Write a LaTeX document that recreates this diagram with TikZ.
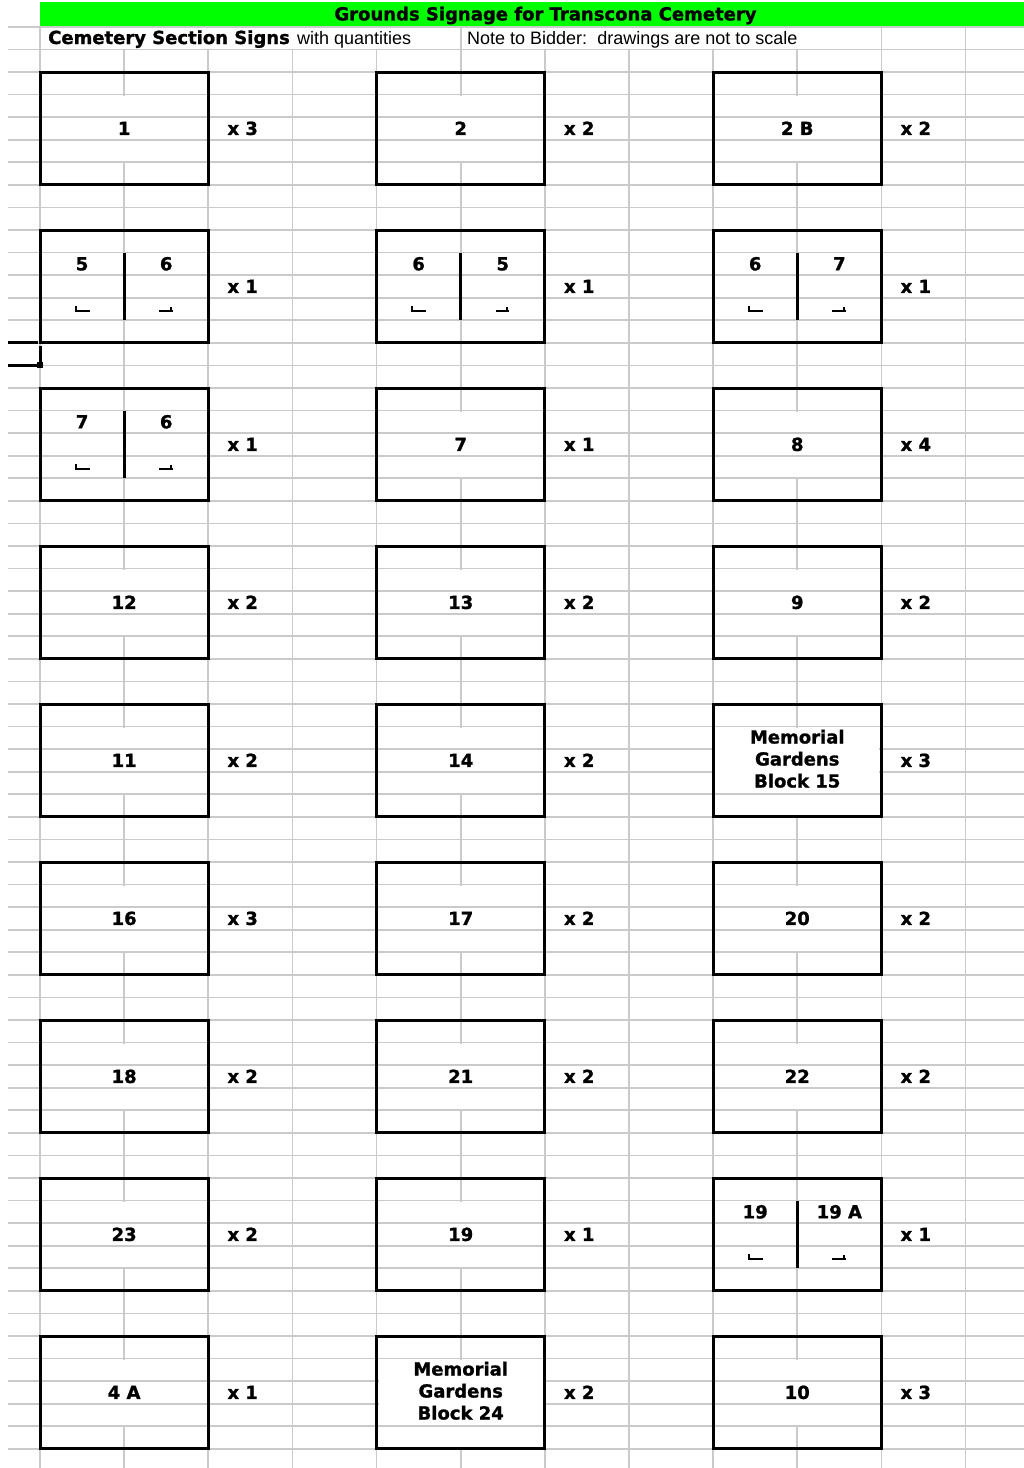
\documentclass[tikz,border=0pt]{standalone}
\usepackage{fontspec}
\setmainfont{DejaVu Sans}[BoldFeatures={FakeBold=1.2}]
\newfontfamily\regfont{Liberation Sans}
\definecolor{gridgray}{HTML}{CACACA}
\definecolor{titlegreen}{HTML}{00FF00}
\begin{document}
\begin{tikzpicture}[x=1pt,y=-1pt,
  gridline/.style={draw=gridgray, line width=1.8pt},
  signbox/.style={draw=black, line width=3pt},
  boldtxt/.style={font=\fontsize{18}{22}\selectfont\bfseries, inner sep=0pt},
  regtxt/.style={font=\regfont\fontsize{18}{22}\selectfont, inner sep=0pt},
  divider/.style={draw=black, line width=3pt},
  arrowmark/.style={draw=black, line width=2pt}]
\useasboundingbox (0,0) rectangle (1024,1468);
\fill[white] (0,0) rectangle (1024,1468);
\def\rh{22.5714}
\def\cw{84.14}
% vertical grid lines
\foreach \k in {0,...,11}{
  \pgfmathsetmacro\xx{40+\k*\cw}
  \draw[gridline] (\xx,49.43) -- (\xx,1468);
}
\foreach \k in {0,5,10,11}{
  \pgfmathsetmacro\xx{40+\k*\cw}
  \draw[gridline] (\xx,26.86) -- (\xx,49.43);
}
% hide middle vertical in merged rows of regular boxes
\foreach \i/\j in {0/0,0/1,0/2,2/1,2/2,3/0,3/1,3/2,4/0,4/1,5/0,5/1,5/2,6/0,6/1,6/2,7/0,7/1,8/0,8/2}{
  \pgfmathsetmacro\tp{72+158*\i}
  \pgfmathsetmacro\xm{40+4*\cw*\j+\cw}
  \draw[white, line width=3pt] (\xm,\tp+\rh+1.2) -- (\xm,\tp+4*\rh-1.2);
}
\foreach \i/\j in {4/2,8/1}{
  \pgfmathsetmacro\tp{72+158*\i}
  \pgfmathsetmacro\xm{40+4*\cw*\j+\cw}
  \draw[white, line width=3pt] (\xm,\tp+\rh+1.2) -- (\xm,\tp+5*\rh-1.2);
}
% horizontal grid lines
\foreach \r in {-2,...,61}{
  \pgfmathsetmacro\yy{72+\r*\rh}
  \draw[gridline] (8,\yy) -- (1024,\yy);
}
% merged area of the memorial boxes
\foreach \i/\j in {4/2,8/1}{
  \pgfmathsetmacro\tp{72+158*\i}
  \pgfmathsetmacro\xl{40+4*\cw*\j}
  \fill[white] (\xl+2,\tp+\rh+1.2) rectangle (\xl+2*\cw-2,\tp+4*\rh-1.2);
}
% header
\fill[titlegreen] (40,2) rectangle (1024,26.2);
\node[boldtxt] (title) at (545.5,15.5) {Grounds Signage for Transcona Cemetery};
\node[boldtxt, anchor=base west] (sect) at (48,44) {Cemetery Section Signs};
\node[regtxt, anchor=base west] (withq) at (297,44) {with quantities};
\node[regtxt, anchor=base west] (note) at (467,44) {Note to Bidder:\ \ drawings are not to scale};
% boxes
\foreach \i in {0,...,8}{
  \foreach \j in {0,1,2}{
    \pgfmathsetmacro\tp{72+158*\i}
    \pgfmathsetmacro\xl{40+4*\cw*\j}
    \draw[signbox] (\xl,\tp) rectangle (\xl+2*\cw,\tp+5*\rh);
  }
}
% regular labels
\foreach \i/\j/\lab in {0/0/1,0/1/2,0/2/{2 B},2/1/7,2/2/8,3/0/12,3/1/13,3/2/9,4/0/11,4/1/14,5/0/16,5/1/17,5/2/20,6/0/18,6/1/21,6/2/22,7/0/23,7/1/19,8/0/{4 A},8/2/10}{
  \pgfmathsetmacro\tp{72+158*\i}
  \pgfmathsetmacro\xm{40+4*\cw*\j+\cw}
  \node[boldtxt, anchor=base] (lab-\i-\j) at (\xm,\tp+2.5*\rh+6.5) {\lab};
}
% split boxes
\foreach \i/\j/\la/\lb in {1/0/5/6,1/1/6/5,1/2/6/7,2/0/7/6,7/2/19/{19 A}}{
  \pgfmathsetmacro\tp{72+158*\i}
  \pgfmathsetmacro\xm{40+4*\cw*\j+\cw}
  \draw[divider] (\xm,\tp+\rh) -- (\xm,\tp+4*\rh);
  \node[boldtxt, anchor=base] (la-\i-\j) at (\xm-\cw/2,\tp+1.5*\rh+6.5) {\la};
  \node[boldtxt, anchor=base] (lb-\i-\j) at (\xm+\cw/2,\tp+1.5*\rh+6.5) {\lb};
  \pgfmathsetmacro\ya{\tp+3.5*\rh+1.5}
  \draw[arrowmark] (\xm-\cw/2-6.5,\ya-4.5) -- (\xm-\cw/2-6.5,\ya) -- (\xm-\cw/2+7.5,\ya);
  \draw[arrowmark] (\xm+\cw/2-7,\ya+0.5) -- (\xm+\cw/2+6.5,\ya+0.5);
  \draw[arrowmark] (\xm+\cw/2+4.5,\ya+0.5) -- (\xm+\cw/2+4.5,\ya-3.5);
}
% memorial boxes
\foreach \i/\j/\blk in {4/2/15,8/1/24}{
  \pgfmathsetmacro\tp{72+158*\i}
  \pgfmathsetmacro\xm{40+4*\cw*\j+\cw}
  \node[boldtxt, anchor=base] (mem-\i-\j) at (\xm,\tp+39.5) {Memorial};
  \node[boldtxt, anchor=base] (gar-\i-\j) at (\xm,\tp+61.5) {Gardens};
  \node[boldtxt, anchor=base] (blk-\i-\j) at (\xm,\tp+83.5) {Block \blk};
}
% quantities
\foreach \i/\j/\q in {0/0/3,0/1/2,0/2/2,1/0/1,1/1/1,1/2/1,2/0/1,2/1/1,2/2/4,3/0/2,3/1/2,3/2/2,4/0/2,4/1/2,4/2/3,5/0/3,5/1/2,5/2/2,6/0/2,6/1/2,6/2/2,7/0/2,7/1/1,7/2/1,8/0/1,8/1/2,8/2/3}{
  \pgfmathsetmacro\tp{72+158*\i}
  \pgfmathsetmacro\xr{40+4*\cw*\j+2*\cw}
  \node[boldtxt, anchor=base west] (qty-\i-\j) at (\xr+19,\tp+2.5*\rh+6.5) {x \q};
}
% selected cell marker
\draw[black, line width=3pt] (8,342.9) -- (38,342.9);
\draw[black, line width=3pt] (40,345.5) -- (40,362);
\draw[black, line width=3pt] (8,365.4) -- (36.5,365.4);
\fill[black] (37,362.4) rectangle (43,368.4);
\end{tikzpicture}
\end{document}
